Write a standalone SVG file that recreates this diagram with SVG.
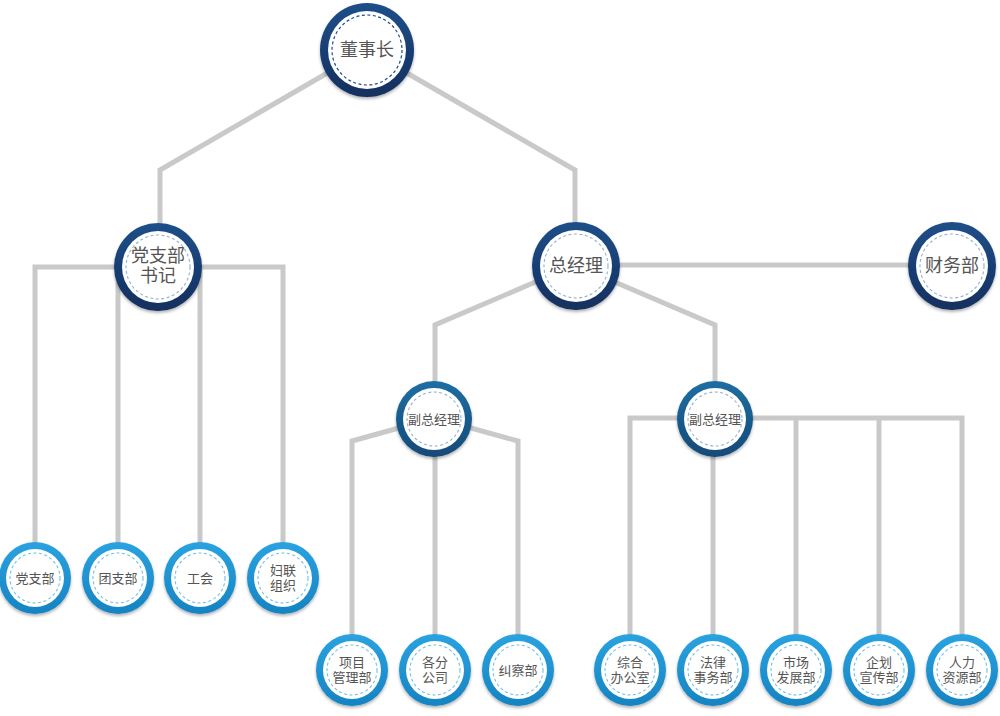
<svg xmlns="http://www.w3.org/2000/svg" width="1000" height="716" viewBox="0 0 1000 716">
<defs>
<linearGradient id="gNavy" x1="0" y1="0" x2="0" y2="1"><stop offset="0" stop-color="#1e4f8a"/><stop offset="1" stop-color="#142f5e"/></linearGradient>
<linearGradient id="gMid" x1="0" y1="0" x2="0" y2="1"><stop offset="0" stop-color="#1f6ea3"/><stop offset="1" stop-color="#124a78"/></linearGradient>
<linearGradient id="gLight" x1="0" y1="0" x2="0" y2="1"><stop offset="0" stop-color="#2aa3e0"/><stop offset="1" stop-color="#1683c2"/></linearGradient>
<filter id="sh" x="-20%" y="-20%" width="140%" height="140%"><feDropShadow dx="0" dy="2" stdDeviation="1.5" flood-color="#000" flood-opacity="0.3"/></filter>
</defs>
<style>
.ln{fill:none;stroke:#c9c9c9;stroke-width:5;stroke-linejoin:miter}
.in{fill:#fff}
.dN{fill:none;stroke:#1e4f8a;stroke-width:1.2;stroke-dasharray:3 2.5}
.dM{fill:none;stroke:#8fb4cf;stroke-width:1.1;stroke-dasharray:3 2.5}
.dL{fill:none;stroke:#6cc0ea;stroke-width:1.1;stroke-dasharray:3 2.5}
.t{font-family:"Liberation Sans","Noto Sans CJK SC",sans-serif;fill:#555;text-anchor:middle}
.b{font-size:18px}
.s{font-size:13px}
</style>
<g id="connectors">
<polyline class="ln" points="367,50 160,170 160,268"/>
<polyline class="ln" points="367,50 575,170 575,265"/>
<polyline class="ln" points="35,577 35,267 283,267 283,577"/>
<line class="ln" x1="118" y1="267" x2="118" y2="577"/>
<line class="ln" x1="200" y1="267" x2="200" y2="577"/>
<line class="ln" x1="575" y1="265" x2="952" y2="265"/>
<polyline class="ln" points="575,265 435,325 435,418"/>
<polyline class="ln" points="575,265 715,325 715,418"/>
<polyline class="ln" points="435,418 352,441 352,670"/>
<polyline class="ln" points="435,418 518,441 518,670"/>
<line class="ln" x1="435" y1="418" x2="435" y2="670"/>
<polyline class="ln" points="630,670 630,418 962,418 962,670"/>
<line class="ln" x1="713" y1="418" x2="713" y2="670"/>
<line class="ln" x1="796" y1="418" x2="796" y2="670"/>
<line class="ln" x1="879" y1="418" x2="879" y2="670"/>
</g>
<g id="n-chairman"><circle cx="367" cy="50" r="47" fill="url(#gNavy)" filter="url(#sh)"/><circle class="in" cx="367" cy="50" r="39"/><circle class="dN" cx="367" cy="50" r="35"/><text class="t b" x="367" y="56">董事长</text></g>
<g id="n-party"><circle cx="158" cy="267" r="44" fill="url(#gNavy)" filter="url(#sh)"/><circle class="in" cx="158" cy="267" r="36"/><circle class="dM" cx="158" cy="267" r="32"/><text class="t b" x="158" y="262">党支部</text><text class="t b" x="158" y="282">书记</text></g>
<g id="n-gm"><circle cx="576" cy="266" r="44" fill="url(#gNavy)" filter="url(#sh)"/><circle class="in" cx="576" cy="266" r="36"/><circle class="dM" cx="576" cy="266" r="32"/><text class="t b" x="576" y="272">总经理</text></g>
<g id="n-finance"><circle cx="952" cy="266" r="44" fill="url(#gNavy)" filter="url(#sh)"/><circle class="in" cx="952" cy="266" r="36"/><circle class="dM" cx="952" cy="266" r="32"/><text class="t b" x="952" y="272">财务部</text></g>
<g id="n-vgm1"><circle cx="434" cy="419" r="38" fill="url(#gMid)" filter="url(#sh)"/><circle class="in" cx="434" cy="419" r="31"/><circle class="dM" cx="434" cy="419" r="27"/><text class="t s" x="434" y="424">副总经理</text></g>
<g id="n-vgm2"><circle cx="715" cy="419" r="38" fill="url(#gMid)" filter="url(#sh)"/><circle class="in" cx="715" cy="419" r="31"/><circle class="dM" cx="715" cy="419" r="27"/><text class="t s" x="715" y="424">副总经理</text></g>
<g id="n-dzb"><circle cx="35" cy="578" r="36" fill="url(#gLight)" filter="url(#sh)"/><circle class="in" cx="35" cy="578" r="29"/><circle class="dL" cx="35" cy="578" r="25"/><text class="t s" x="35" y="583">党支部</text></g>
<g id="n-tzb"><circle cx="118" cy="578" r="36" fill="url(#gLight)" filter="url(#sh)"/><circle class="in" cx="118" cy="578" r="29"/><circle class="dL" cx="118" cy="578" r="25"/><text class="t s" x="118" y="583">团支部</text></g>
<g id="n-gh"><circle cx="200" cy="578" r="36" fill="url(#gLight)" filter="url(#sh)"/><circle class="in" cx="200" cy="578" r="29"/><circle class="dL" cx="200" cy="578" r="25"/><text class="t s" x="200" y="583">工会</text></g>
<g id="n-fl"><circle cx="283" cy="578" r="36" fill="url(#gLight)" filter="url(#sh)"/><circle class="in" cx="283" cy="578" r="29"/><circle class="dL" cx="283" cy="578" r="25"/><text class="t s" x="283" y="575">妇联</text><text class="t s" x="283" y="590">组织</text></g>
<g id="n-xm"><circle cx="352" cy="670" r="36" fill="url(#gLight)" filter="url(#sh)"/><circle class="in" cx="352" cy="670" r="29"/><circle class="dL" cx="352" cy="670" r="25"/><text class="t s" x="352" y="667">项目</text><text class="t s" x="352" y="682">管理部</text></g>
<g id="n-gf"><circle cx="435" cy="670" r="36" fill="url(#gLight)" filter="url(#sh)"/><circle class="in" cx="435" cy="670" r="29"/><circle class="dL" cx="435" cy="670" r="25"/><text class="t s" x="435" y="667">各分</text><text class="t s" x="435" y="682">公司</text></g>
<g id="n-jc"><circle cx="518" cy="670" r="36" fill="url(#gLight)" filter="url(#sh)"/><circle class="in" cx="518" cy="670" r="29"/><circle class="dL" cx="518" cy="670" r="25"/><text class="t s" x="518" y="675">纠察部</text></g>
<g id="n-zh"><circle cx="630" cy="670" r="36" fill="url(#gLight)" filter="url(#sh)"/><circle class="in" cx="630" cy="670" r="29"/><circle class="dL" cx="630" cy="670" r="25"/><text class="t s" x="630" y="667">综合</text><text class="t s" x="630" y="682">办公室</text></g>
<g id="n-fv"><circle cx="713" cy="670" r="36" fill="url(#gLight)" filter="url(#sh)"/><circle class="in" cx="713" cy="670" r="29"/><circle class="dL" cx="713" cy="670" r="25"/><text class="t s" x="713" y="667">法律</text><text class="t s" x="713" y="682">事务部</text></g>
<g id="n-sc"><circle cx="796" cy="670" r="36" fill="url(#gLight)" filter="url(#sh)"/><circle class="in" cx="796" cy="670" r="29"/><circle class="dL" cx="796" cy="670" r="25"/><text class="t s" x="796" y="667">市场</text><text class="t s" x="796" y="682">发展部</text></g>
<g id="n-qh"><circle cx="879" cy="670" r="36" fill="url(#gLight)" filter="url(#sh)"/><circle class="in" cx="879" cy="670" r="29"/><circle class="dL" cx="879" cy="670" r="25"/><text class="t s" x="879" y="667">企划</text><text class="t s" x="879" y="682">宣传部</text></g>
<g id="n-rl"><circle cx="962" cy="670" r="36" fill="url(#gLight)" filter="url(#sh)"/><circle class="in" cx="962" cy="670" r="29"/><circle class="dL" cx="962" cy="670" r="25"/><text class="t s" x="962" y="667">人力</text><text class="t s" x="962" y="682">资源部</text></g>
</svg>
